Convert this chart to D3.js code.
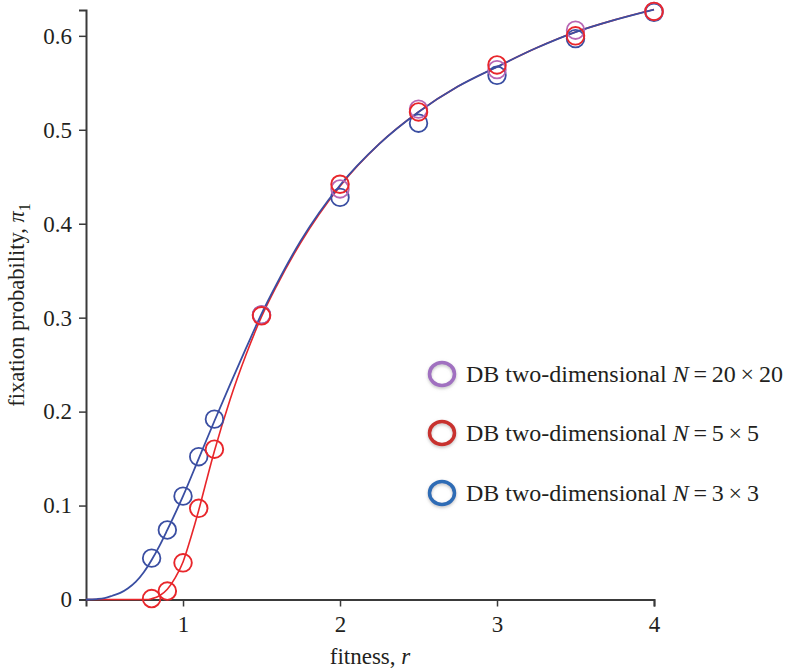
<!DOCTYPE html>
<html>
<head>
<meta charset="utf-8">
<script src="https://cdn.jsdelivr.net/npm/d3@7/dist/d3.min.js"></script>
<style>
  html, body { margin: 0; padding: 0; background: #fff; }
  svg { display: block; }
  text { font-family: "Liberation Serif", "Times New Roman", serif; fill: #231f20; }
</style>
</head>
<body>
<svg id="chart" width="793" height="671"></svg>
<script>
// ---- data ----
const sampleR = [0.8, 0.9, 1.0, 1.1, 1.2, 1.5, 2.0, 2.5, 3.0, 3.5, 4.0];
const blue3x3 = [0.044, 0.074, 0.110, 0.152, 0.192, 0.303, 0.428, 0.507, 0.558, 0.597, 0.625];
const red5x5  = [0.001, 0.009, 0.039, 0.097, 0.160, 0.302, 0.442, 0.519, 0.569, 0.600, 0.626];
const purpleR = [1.5, 2.0, 2.5, 3.0, 3.5, 4.0];
const purple20x20 = [0.303, 0.437, 0.522, 0.564, 0.606, 0.626];

const blueCurveR = [0.382, 0.45, 0.5, 0.55, 0.6, 0.65, 0.7, 0.75, 0.8, 0.85, 0.9, 1.0, 1.1, 1.2, 1.3, 1.4, 1.5, 1.6, 1.75, 2.0, 2.25, 2.5, 2.75, 3.0, 3.25, 3.5, 3.75, 4.0];
const blueCurve  = [0, 0.0005, 0.0015, 0.004, 0.007, 0.012, 0.019, 0.029, 0.042, 0.057, 0.074, 0.110, 0.150, 0.190, 0.229, 0.267, 0.304, 0.337, 0.382, 0.441, 0.485, 0.519, 0.546, 0.567, 0.587, 0.604, 0.617, 0.628];
const redCurveR  = [0.382, 0.6, 0.78, 0.8, 0.85, 0.9, 0.95, 1.0, 1.05, 1.1, 1.15, 1.2, 1.3, 1.4, 1.5, 1.6, 1.75, 2.0, 2.25, 2.5, 2.75, 3.0, 3.25, 3.5, 3.75, 4.0];
const redCurve   = [0, 0, 0, 0.0008, 0.004, 0.011, 0.023, 0.040, 0.066, 0.095, 0.127, 0.158, 0.213, 0.260, 0.301, 0.335, 0.380, 0.440, 0.485, 0.519, 0.546, 0.567, 0.587, 0.604, 0.617, 0.628];

const xMajorTicks = [1, 2, 3, 4];
const xMinorTicks = [0.5, 1.5, 2.5, 3.5];
const yMajorTicks = [0, 0.1, 0.2, 0.3, 0.4, 0.5, 0.6];
const yMinorTicks = [0.05, 0.15, 0.25, 0.35, 0.45, 0.55];
const yTickLabels = ["0", "0.1", "0.2", "0.3", "0.4", "0.5", "0.6"];
const legendLabels = ["20\u2009\u00d7\u200920", "5\u2009\u00d7\u20095", "3\u2009\u00d7\u20093"];

// ---- drawing ----
const svg = d3.select("#chart");
const x = d3.scaleLinear().domain([0.382, 4]).range([86, 654]);
const y = d3.scaleLinear().domain([0, 0.6275]).range([599.5, 10]);

const colBlue = "#3a4ea2", colRed = "#e8262b", colPurple = "#b866b4";
const axisCol = "#3a3a3a";

// axes
const gx = svg.append("g").attr("transform", `translate(0,${y(0)})`);
gx.call(d3.axisBottom(x).tickValues(xMinorTicks).tickSize(5).tickFormat(""));
gx.call(d3.axisBottom(x).tickValues(xMajorTicks).tickSize(7).tickPadding(9).tickFormat(d3.format("d")));
gx.selectAll("path.domain").attr("stroke", axisCol).attr("stroke-width", 2);
gx.selectAll("line").attr("stroke", axisCol).attr("stroke-width", 1.5);
gx.selectAll("text").style("font-size", "23px").style("font-family", "Liberation Serif").attr("fill", "#231f20");

const gy = svg.append("g").attr("transform", `translate(${x(0.382)},0)`);
gy.call(d3.axisLeft(y).tickValues(yMinorTicks).tickSize(4).tickFormat(""));
gy.call(d3.axisLeft(y).tickValues(yMajorTicks).tickSize(7).tickPadding(7)
  .tickFormat((d, i) => yTickLabels[i]));
gy.selectAll("path.domain").attr("stroke", axisCol).attr("stroke-width", 2);
gy.selectAll("line").attr("stroke", axisCol).attr("stroke-width", 1.5);
gy.selectAll("text").style("font-size", "23px").style("font-family", "Liberation Serif").attr("fill", "#231f20");

// curves
const line = d3.line().x(d => x(d[0])).y(d => y(d[1])).curve(d3.curveMonotoneX);
svg.append("path").datum(redCurveR.map((r, i) => [r, redCurve[i]]))
  .attr("d", line).attr("fill", "none").attr("stroke", colRed).attr("stroke-width", 1.6);
svg.append("path").datum(blueCurveR.map((r, i) => [r, blueCurve[i]]))
  .attr("d", line).attr("fill", "none").attr("stroke", colBlue).attr("stroke-width", 1.8);

// markers
function markers(rs, vals, col, w) {
  svg.append("g").selectAll("circle").data(rs.map((r, i) => [r, vals[i]])).join("circle")
    .attr("cx", d => x(d[0])).attr("cy", d => y(d[1])).attr("r", 8.8)
    .attr("fill", "none").attr("stroke", col).attr("stroke-width", w);
}
markers(sampleR, blue3x3, colBlue, 1.8);
markers(purpleR, purple20x20, colPurple, 1.8);
markers(sampleR, red5x5, colRed, 1.9);

// axis titles
svg.append("text").attr("x", 370).attr("y", 664).attr("text-anchor", "middle")
  .style("font-size", "23px")
  .call(t => { t.append("tspan").text("fitness, "); t.append("tspan").style("font-style", "italic").text("r"); });

const yt = svg.append("text").attr("transform", "translate(24,305) rotate(-90)")
  .attr("text-anchor", "middle").style("font-size", "22.5px");
yt.append("tspan").text("fixation probability, ");
yt.append("tspan").style("font-style", "italic").text("\u03c0");
yt.append("tspan").attr("dy", 6).style("font-size", "16px").text("1");

// legend
const defs = svg.append("defs");
const f = defs.append("filter").attr("id", "sh").attr("x", "-50%").attr("y", "-50%").attr("width", "200%").attr("height", "200%");
f.append("feDropShadow").attr("dx", 0).attr("dy", 1.5).attr("stdDeviation", 1.5).attr("flood-color", "#888").attr("flood-opacity", 0.5);

const legendCols = ["#a070c0", "#c8302e", "#2f6cb5"];
const legendY = [374, 433, 493];
legendLabels.forEach((lab, i) => {
  svg.append("ellipse").attr("cx", 442).attr("cy", legendY[i]).attr("rx", 12.5).attr("ry", 11.5)
    .attr("fill", "none").attr("stroke", legendCols[i]).attr("stroke-width", 3.5).attr("filter", "url(#sh)");
  const t = svg.append("text").attr("x", 466).attr("y", legendY[i] + 8).style("font-size", "24px");
  t.append("tspan").text("DB two-dimensional ");
  t.append("tspan").style("font-style", "italic").text("N");
  t.append("tspan").text("\u2009=\u2009" + lab);
});
</script>
</body>
</html>
